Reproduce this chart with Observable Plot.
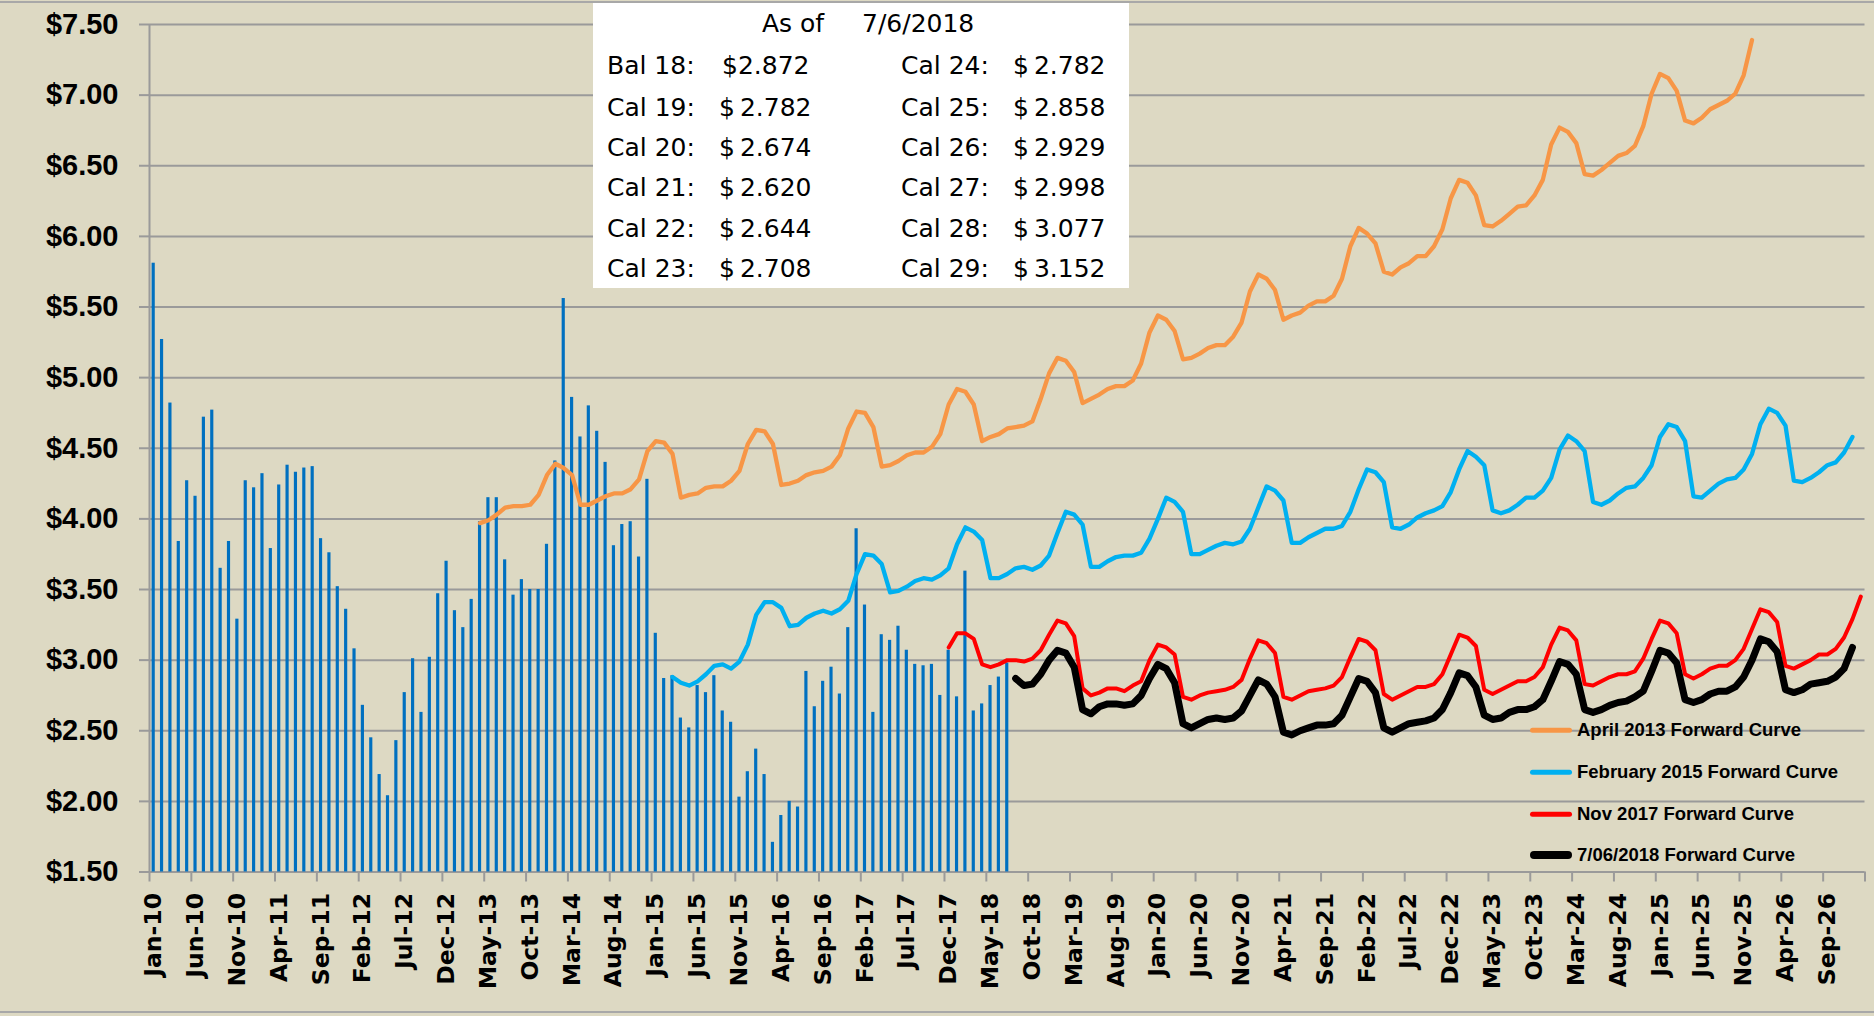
<!DOCTYPE html>
<html>
<head>
<meta charset="utf-8">
<script src="https://cdn.jsdelivr.net/npm/d3@7"></script>
<script src="https://cdn.jsdelivr.net/npm/@observablehq/plot@0.6"></script>
<style>
  html, body { margin: 0; padding: 0; background: #DDD9C3; }
  #wrap { position: relative; width: 1874px; height: 1016px; background: #DDD9C3; overflow: hidden; }
  #chart svg { position: absolute; left: 0; top: 0; }
  .border { position: absolute; left: 0; width: 1874px; height: 2px; background: #A8A8A8; }
  #info { position: absolute; left: 593px; top: 3px; width: 536px; height: 285px; background: #ffffff;
          font-family: "DejaVu Sans", sans-serif; font-size: 25px; color: #000; }
  #info span { position: absolute; white-space: nowrap; line-height: 1; transform: translateY(-50%); }
  #legend { position: absolute; left: 0; top: 0; font-family: "Liberation Sans", Arial, sans-serif;
            font-weight: bold; font-size: 18.5px; color: #000; }
  #legend .sw { position: absolute; width: 42px; border-radius: 4px; transform: translateY(-50%); }
  #legend .lt { position: absolute; white-space: nowrap; line-height: 1; transform: translateY(-50%); }
</style>
</head>
<body>
<div id="wrap">
  <div id="chart"></div>
  <div class="border" style="top:1px"></div>
  <div class="border" style="top:1011px"></div>
  <div id="info"></div>
  <div id="legend"></div>
</div>
<script>
// ---------------- data ----------------
// month index: 0 = Jan-10
const tickLabels = ["Jan-10","Jun-10","Nov-10","Apr-11","Sep-11","Feb-12","Jul-12","Dec-12","May-13","Oct-13",
  "Mar-14","Aug-14","Jan-15","Jun-15","Nov-15","Apr-16","Sep-16","Feb-17","Jul-17","Dec-17","May-18","Oct-18",
  "Mar-19","Aug-19","Jan-20","Jun-20","Nov-20","Apr-21","Sep-21","Feb-22","Jul-22","Dec-22","May-23","Oct-23",
  "Mar-24","Aug-24","Jan-25","Jun-25","Nov-25","Apr-26","Sep-26"];
const yTickValues = [1.5, 2, 2.5, 3, 3.5, 4, 4.5, 5, 5.5, 6, 6.5, 7, 7.5];

// Monthly settlement prices, Jan-10 .. Jul-18
const barStart = 0;
const barValues = [
  5.81, 5.27, 4.82, 3.84, 4.27, 4.16, 4.72, 4.77, 3.65, 3.84, 3.29, 4.27,
  4.22, 4.32, 3.79, 4.24, 4.38, 4.33, 4.36, 4.37, 3.86, 3.76, 3.52, 3.36,
  3.08, 2.68, 2.45, 2.19, 2.04, 2.43, 2.77, 3.01, 2.63, 3.02, 3.47, 3.70,
  3.35, 3.23, 3.43, 3.98, 4.15, 4.15, 3.71, 3.46, 3.57, 3.50, 3.50, 3.82,
  4.41, 5.56, 4.86, 4.58, 4.80, 4.62, 4.40, 3.81, 3.96, 3.98, 3.73, 4.28,
  3.19, 2.87, 2.89, 2.59, 2.52, 2.82, 2.77, 2.89, 2.64, 2.56, 2.03, 2.21,
  2.37, 2.19, 1.71, 1.90, 2.00, 1.96, 2.92, 2.67, 2.85, 2.95, 2.76, 3.23,
  3.93, 3.39, 2.63, 3.18, 3.14, 3.24, 3.07, 2.97, 2.96, 2.97, 2.75, 3.07,
  2.74, 3.63, 2.64, 2.69, 2.82, 2.88, 2.98
];

// April 2013 forward curve, Apr-13 .. Dec-25
const orangeStart = 39;
const orangeValues = [
  3.97, 3.99, 4.03, 4.08, 4.09, 4.09, 4.10, 4.17, 4.31,
  4.39, 4.36, 4.31, 4.10, 4.10, 4.13, 4.16, 4.18, 4.18, 4.21, 4.28, 4.48,
  4.55, 4.54, 4.46, 4.15, 4.17, 4.18, 4.22, 4.23, 4.23, 4.27, 4.34, 4.53,
  4.63, 4.62, 4.53, 4.24, 4.25, 4.27, 4.31, 4.33, 4.34, 4.37, 4.45, 4.64,
  4.76, 4.75, 4.65, 4.37, 4.38, 4.41, 4.45, 4.47, 4.47, 4.51, 4.60, 4.81,
  4.92, 4.90, 4.81, 4.55, 4.58, 4.60, 4.64, 4.65, 4.66, 4.69, 4.85, 5.03,
  5.14, 5.12, 5.04, 4.82, 4.85, 4.88, 4.92, 4.94, 4.94, 4.98, 5.10, 5.32,
  5.44, 5.41, 5.33, 5.13, 5.14, 5.17, 5.21, 5.23, 5.23, 5.29, 5.39, 5.61,
  5.73, 5.70, 5.62, 5.41, 5.44, 5.46, 5.51, 5.54, 5.54, 5.58, 5.70, 5.93,
  6.06, 6.02, 5.95, 5.75, 5.73, 5.78, 5.81, 5.86, 5.86, 5.93, 6.05, 6.27,
  6.40, 6.38, 6.29, 6.08, 6.07, 6.11, 6.16, 6.21, 6.22, 6.29, 6.40, 6.65,
  6.77, 6.74, 6.66, 6.44, 6.43, 6.47, 6.52, 6.57, 6.59, 6.64, 6.78, 7.01,
  7.15, 7.12, 7.03, 6.82, 6.80, 6.84, 6.90, 6.93, 6.96, 7.01, 7.14, 7.39
];

// February 2015 forward curve, Mar-15 .. Dec-26
const blueStart = 62;
const blueValues = [
  2.88, 2.84, 2.82, 2.85, 2.90, 2.96, 2.97, 2.94, 2.99, 3.11,
  3.32, 3.41, 3.41, 3.37, 3.24, 3.25, 3.30, 3.33, 3.35, 3.33, 3.36, 3.42,
  3.61, 3.75, 3.74, 3.68, 3.48, 3.49, 3.52, 3.56, 3.58, 3.57, 3.60, 3.65,
  3.82, 3.94, 3.91, 3.85, 3.58, 3.58, 3.61, 3.65, 3.66, 3.64, 3.67, 3.74,
  3.90, 4.05, 4.03, 3.96, 3.66, 3.66, 3.70, 3.73, 3.74, 3.74, 3.76, 3.86,
  4.00, 4.15, 4.12, 4.05, 3.75, 3.75, 3.78, 3.81, 3.83, 3.82, 3.84, 3.93,
  4.08, 4.23, 4.20, 4.13, 3.83, 3.83, 3.87, 3.90, 3.93, 3.93, 3.95, 4.05,
  4.21, 4.35, 4.33, 4.26, 3.94, 3.93, 3.96, 4.01, 4.04, 4.06, 4.09, 4.19,
  4.35, 4.48, 4.44, 4.38, 4.06, 4.04, 4.06, 4.10, 4.15, 4.15, 4.20, 4.29,
  4.49, 4.59, 4.55, 4.48, 4.12, 4.10, 4.13, 4.18, 4.22, 4.23, 4.29, 4.38,
  4.58, 4.67, 4.65, 4.55, 4.16, 4.15, 4.20, 4.25, 4.28, 4.29, 4.35, 4.46,
  4.67, 4.78, 4.75, 4.66, 4.27, 4.26, 4.29, 4.33, 4.38, 4.40, 4.47, 4.58
];

// Nov 2017 forward curve, Dec-17 .. Jan-27
const redStart = 95;
const redValues = [
  3.09,
  3.19, 3.19, 3.15, 2.97, 2.95, 2.97, 3.00, 3.00, 2.99, 3.01, 3.07, 3.18,
  3.28, 3.26, 3.17, 2.80, 2.75, 2.77, 2.80, 2.80, 2.78, 2.82, 2.85, 3.00,
  3.11, 3.09, 3.04, 2.74, 2.72, 2.75, 2.77, 2.78, 2.79, 2.81, 2.86, 3.01,
  3.14, 3.12, 3.05, 2.74, 2.72, 2.75, 2.78, 2.79, 2.80, 2.82, 2.88, 3.02,
  3.15, 3.13, 3.07, 2.76, 2.72, 2.75, 2.78, 2.81, 2.81, 2.83, 2.90, 3.04,
  3.18, 3.16, 3.10, 2.79, 2.76, 2.79, 2.82, 2.85, 2.85, 2.88, 2.95, 3.11,
  3.23, 3.21, 3.14, 2.83, 2.82, 2.85, 2.88, 2.90, 2.90, 2.92, 3.01, 3.15,
  3.28, 3.26, 3.19, 2.90, 2.87, 2.90, 2.94, 2.96, 2.96, 3.00, 3.08, 3.22,
  3.36, 3.34, 3.27, 2.96, 2.94, 2.97, 3.00, 3.04, 3.04, 3.08, 3.16, 3.29,
  3.45
];

// 7/06/2018 forward curve, Aug-18 .. Dec-26
const blackStart = 103;
const blackValues = [
  2.87, 2.82, 2.83, 2.90, 3.00,
  3.07, 3.05, 2.95, 2.65, 2.62, 2.67, 2.69, 2.69, 2.68, 2.69, 2.75, 2.87,
  2.97, 2.94, 2.84, 2.55, 2.52, 2.55, 2.58, 2.59, 2.58, 2.59, 2.64, 2.75,
  2.86, 2.83, 2.74, 2.49, 2.47, 2.50, 2.52, 2.54, 2.54, 2.55, 2.61, 2.74,
  2.87, 2.85, 2.77, 2.52, 2.49, 2.52, 2.55, 2.56, 2.57, 2.59, 2.65, 2.77,
  2.91, 2.89, 2.81, 2.61, 2.58, 2.59, 2.63, 2.65, 2.65, 2.67, 2.72, 2.85,
  2.99, 2.97, 2.90, 2.65, 2.63, 2.65, 2.68, 2.70, 2.71, 2.74, 2.78, 2.92,
  3.07, 3.05, 2.98, 2.72, 2.70, 2.72, 2.76, 2.78, 2.78, 2.81, 2.88, 3.00,
  3.15, 3.13, 3.06, 2.79, 2.77, 2.79, 2.83, 2.84, 2.85, 2.88, 2.94, 3.09
];

const seriesNames = ["April 2013 Forward Curve", "February 2015 Forward Curve", "Nov 2017 Forward Curve", "7/06/2018 Forward Curve"];
const seriesColors = ["#F79646", "#00B0F0", "#FF0000", "#000000"];

const infoTitle = ["As of", "7/6/2018"];
const infoLeftLabels = ["Bal 18:", "Cal 19:", "Cal 20:", "Cal 21:", "Cal 22:", "Cal 23:"];
const infoLeftValues = ["$2.872", "$\u20092.782", "$\u20092.674", "$\u20092.620", "$\u20092.644", "$\u20092.708"];
const infoRightLabels = ["Cal 24:", "Cal 25:", "Cal 26:", "Cal 27:", "Cal 28:", "Cal 29:"];
const infoRightValues = ["$\u20092.782", "$\u20092.858", "$\u20092.929", "$\u20092.998", "$\u20093.077", "$\u20093.152"];

// ---------------- build ----------------
const toRows = (start, vals) => vals.map((v, k) => ({i: start + k, v}));
const bars = toRows(barStart, barValues);
const curves = [
  toRows(orangeStart, orangeValues),
  toRows(blueStart, blueValues),
  toRows(redStart, redValues),
  toRows(blackStart, blackValues)
];
const lineWidths = [4.3, 4.3, 4.0, 7];

const tickPositions = d3.range(0, 206, 5);
const labelPositions = tickLabels.map((_, k) => k * 5 + 0.5);
const gridColor = "#9A9A9A";
const xFont = {fontFamily: "DejaVu Sans", fontWeight: "bold", fontSize: 23.5, fill: "#000"};
const yFont = {fontFamily: "Liberation Sans", fontWeight: "bold", fontSize: 29, fill: "#000"};

const chart = Plot.plot({
  width: 1874,
  height: 1016,
  marginLeft: 149,
  marginRight: 9.5,
  marginTop: 24,
  marginBottom: 144.5,
  style: {background: "transparent", color: "#000", overflow: "visible"},
  x: {type: "linear", domain: [0, 205]},
  y: {type: "linear", domain: [1.5, 7.5]},
  marks: [
    Plot.gridY(yTickValues, {stroke: gridColor, strokeOpacity: 1, strokeWidth: 2}),
    Plot.axisY(yTickValues, {tickSize: 10, tickPadding: 21, stroke: gridColor, strokeWidth: 2,
      tickFormat: d => "$" + d.toFixed(2), label: null, ...yFont}),
    Plot.ruleX([0], {stroke: gridColor, strokeWidth: 2}),
    Plot.rect(bars, {x1: "i", x2: d => d.i + 1, y1: 1.5, y2: "v", fill: "#0070C0", insetLeft: 2.6, insetRight: 2.6}),
    Plot.axisX(tickPositions, {tickSize: 10, stroke: gridColor, strokeWidth: 2, tickFormat: () => "", label: null}),
    Plot.axisX(labelPositions, {tickSize: 0, tickPadding: 21, tickRotate: -90, label: null,
      tickFormat: d => tickLabels[Math.round((d - 0.5) / 5)], ...xFont}),
    ...curves.map((rows, s) => Plot.line(rows, {
      x: d => d.i + 0.5, y: "v", stroke: seriesColors[s], strokeWidth: lineWidths[s],
      strokeLinejoin: "round", strokeLinecap: "round"
    }))
  ]
});
document.getElementById("chart").appendChild(chart);

// info box
const info = document.getElementById("info");
function addSpan(parent, text, left, top) {
  const s = document.createElement("span");
  s.textContent = text;
  s.style.left = left + "px";
  s.style.top = top + "px";
  parent.appendChild(s);
}
addSpan(info, infoTitle[0], 169, 20);
addSpan(info, infoTitle[1], 269, 20);
const rowTops = [62, 104, 144, 184, 225, 265];
infoLeftLabels.forEach((t, k) => addSpan(info, t, 14, rowTops[k]));
infoLeftValues.forEach((t, k) => addSpan(info, t, k === 0 ? 129 : 126, rowTops[k]));
infoRightLabels.forEach((t, k) => addSpan(info, t, 308, rowTops[k]));
infoRightValues.forEach((t, k) => addSpan(info, t, 420, rowTops[k]));

// legend
const legend = document.getElementById("legend");
const legendRows = [730, 772, 814, 855];
seriesNames.forEach((name, k) => {
  const sw = document.createElement("div");
  sw.className = "sw";
  sw.style.left = "1530px";
  sw.style.top = legendRows[k] + "px";
  sw.style.height = (k === 3 ? 8 : 4.5) + "px";
  sw.style.background = seriesColors[k];
  legend.appendChild(sw);
  const lt = document.createElement("span");
  lt.className = "lt";
  lt.textContent = name;
  lt.style.left = "1577px";
  lt.style.top = legendRows[k] + "px";
  legend.appendChild(lt);
});
</script>
</body>
</html>
